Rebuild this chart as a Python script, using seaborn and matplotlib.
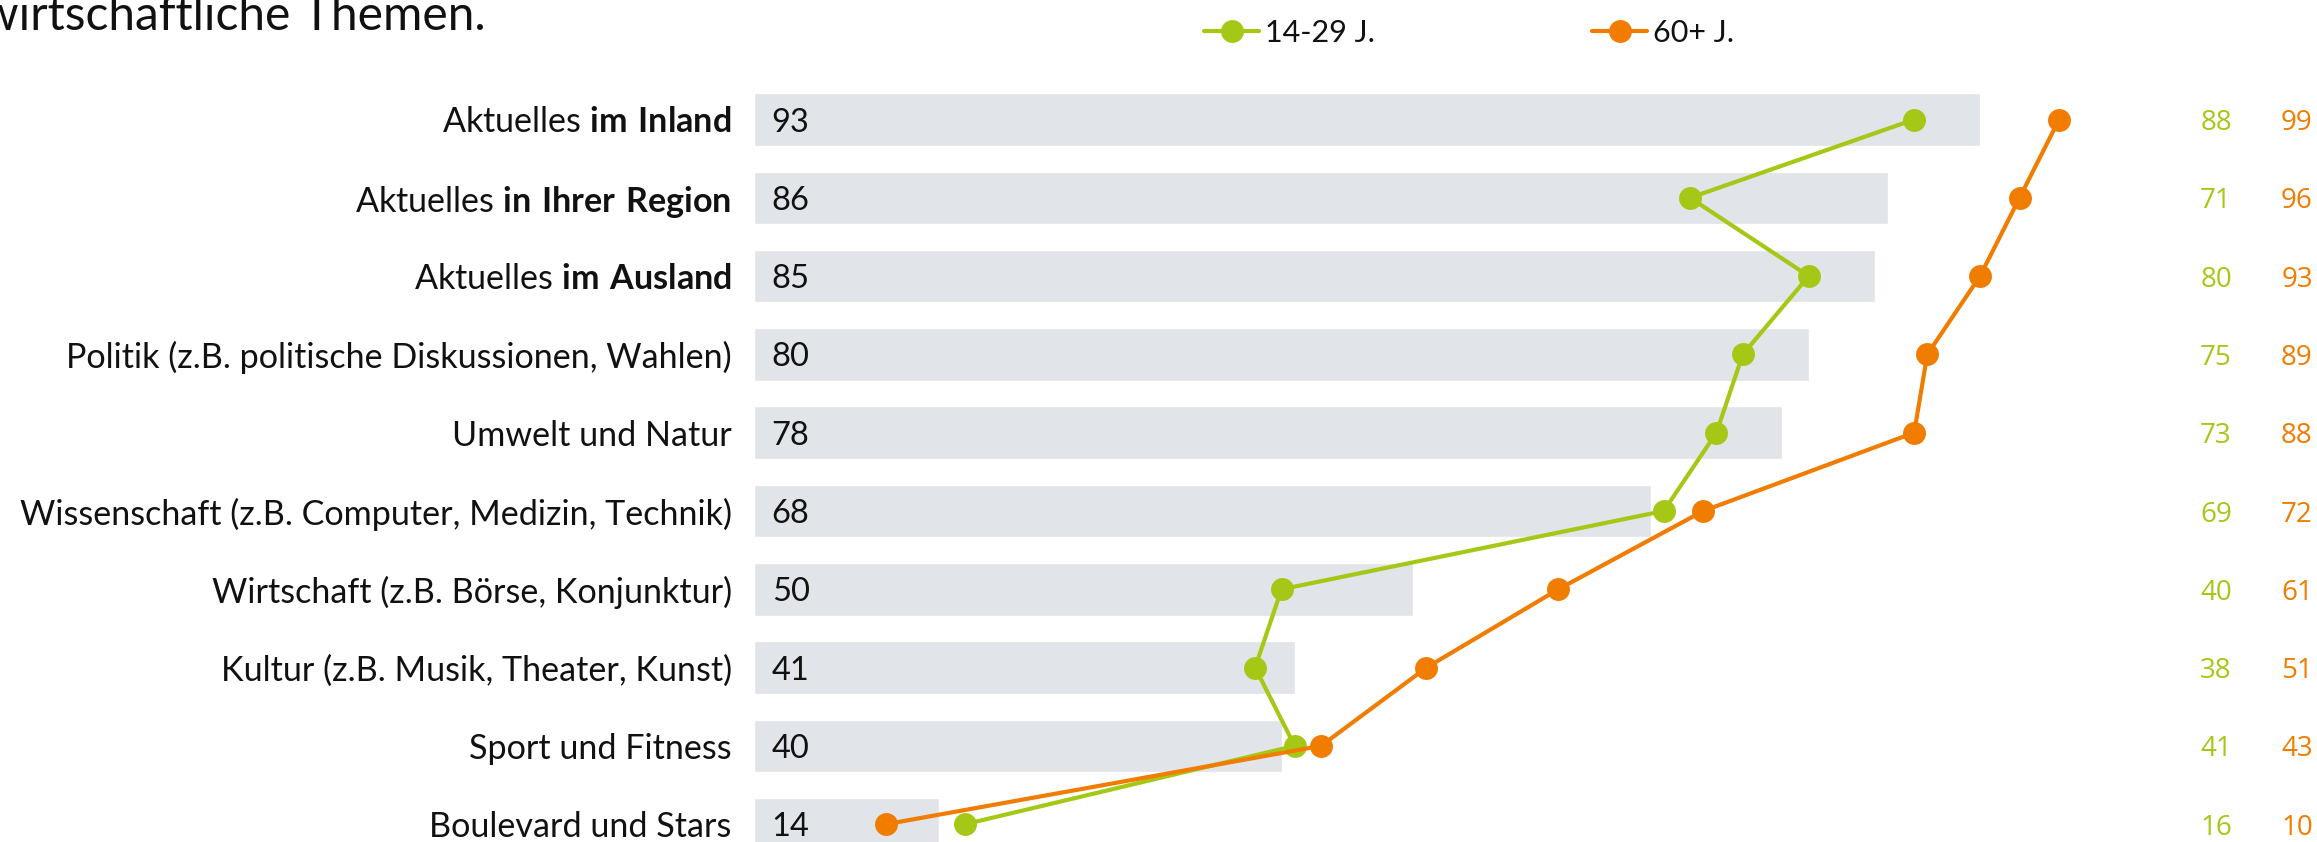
import numpy as np
import pandas as pd
import matplotlib
matplotlib.use("Agg")
import matplotlib.pyplot as plt
import seaborn as sns

# Topics (bold part written as mathtext bold)
categories = [
    "Aktuelles $\\bf{im\\ Inland}$",
    "Aktuelles $\\bf{in\\ Ihrer\\ Region}$",
    "Aktuelles $\\bf{im\\ Ausland}$",
    "Politik (z.B. politische Diskussionen, Wahlen)",
    "Umwelt und Natur",
    "Wissenschaft (z.B. Computer, Medizin, Technik)",
    "Wirtschaft (z.B. Börse, Konjunktur)",
    "Kultur (z.B. Musik, Theater, Kunst)",
    "Sport und Fitness",
    "Boulevard und Stars",
]
total = [93, 86, 85, 80, 78, 68, 50, 41, 40, 14]
age_14_29 = [88, 71, 80, 75, 73, 69, 40, 38, 41, 16]
age_60_plus = [99, 96, 93, 89, 88, 72, 61, 51, 43, 10]
series_names = ["14-29 J.", "60+ J."]
title_text = "wirtschaftliche Themen."

GRAY = "#E1E4E8"
GREEN = "#A5C816"
ORANGE = "#F07D00"
INK = "#111111"

sns.set_theme(style="white")
plt.rcParams["font.family"] = ["Lato", "DejaVu Sans"]
plt.rcParams["mathtext.fontset"] = "custom"
plt.rcParams["mathtext.rm"] = "Lato"
plt.rcParams["mathtext.bf"] = "Lato:bold"

W, H = 2317, 842
fig = plt.figure(figsize=(W / 100, H / 100), dpi=100)
fig.patch.set_facecolor("white")

x0_px = 754.3          # pixel where the value axis starts
px_per_unit = 13.18
row0_px = 119.5
row_px = 78.3
ax = fig.add_axes([x0_px / W, 0, 1 - x0_px / W, 1])
ax.set_facecolor("none")

df = pd.DataFrame({
    "Thema": categories,
    "pos": np.arange(len(categories)),
    "Gesamt": total,
    series_names[0]: age_14_29,
    series_names[1]: age_60_plus,
})

sns.barplot(data=df, x="Gesamt", y="pos", orient="h", native_scale=True,
            color=GRAY, saturation=1, width=0.67, ax=ax, zorder=1)

sns.lineplot(data=df, x=series_names[0], y="pos", orient="y", sort=False,
             estimator=None, color=GREEN, linewidth=3.0, marker="o",
             markersize=16.5, markeredgewidth=0, label=series_names[0],
             ax=ax, zorder=3)
sns.lineplot(data=df, x=series_names[1], y="pos", orient="y", sort=False,
             estimator=None, color=ORANGE, linewidth=3.0, marker="o",
             markersize=16.5, markeredgewidth=0, label=series_names[1],
             ax=ax, zorder=4)

# Axis ranges so that rows and units land on a fixed grid
ax.set_xlim(0, (W - x0_px) / px_per_unit)
ax.set_ylim((H - row0_px) / row_px, -row0_px / row_px)

ax.set_yticks(df["pos"])
ax.set_yticklabels(categories, fontsize=24.6, color=INK)
ax.set_xticks([])
ax.tick_params(axis="y", length=0, pad=16.3)
ax.set_xlabel("")
ax.set_ylabel("")
for s in ax.spines.values():
    s.set_visible(False)

# Values inside the bars
for i, v in enumerate(total):
    ax.text(1.32, i, str(v), ha="left", va="center_baseline",
            fontsize=23.5, color=INK, zorder=2)

# Value columns on the right
gx = (2216 - x0_px) / px_per_unit
ox = (2297 - x0_px) / px_per_unit
for i, (g, o) in enumerate(zip(age_14_29, age_60_plus)):
    ax.text(gx, i, str(g), ha="center", va="center_baseline",
            fontsize=20, color=GREEN, family="Open Sans", clip_on=False)
    ax.text(ox, i, str(o), ha="center", va="center_baseline",
            fontsize=20, color=ORANGE, family="Open Sans", clip_on=False)

# Legend along the top
handles, labels = ax.get_legend_handles_labels()
if ax.get_legend() is not None:
    ax.get_legend().remove()
fig.legend(handles, labels, loc="center left",
           bbox_to_anchor=(1204 / W, 1 - 33 / H), ncol=2, frameon=False,
           fontsize=22, handlelength=1.8, handletextpad=0.2,
           columnspacing=7.1, borderpad=0, borderaxespad=0,
           labelcolor=INK)

# Heading line (continuation from above)
fig.text(486 / W, 1 - 30 / H, title_text, ha="right", va="baseline",
         fontsize=34.5, color=INK)

fig.savefig("out.png", dpi=100, facecolor="white")
